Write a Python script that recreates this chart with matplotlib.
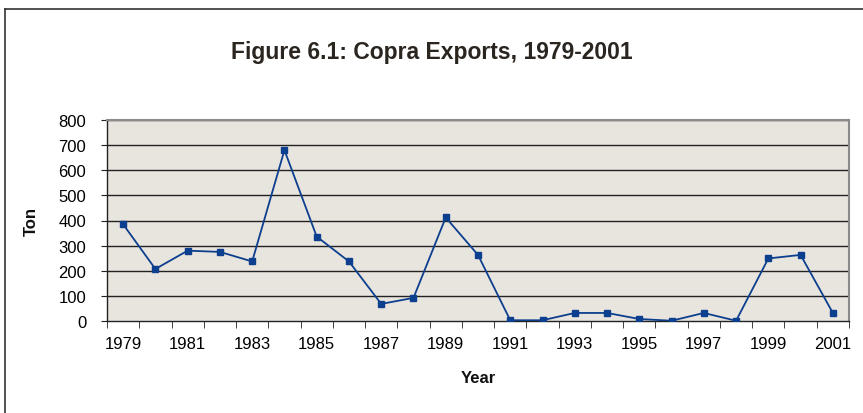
import numpy as np
import matplotlib
matplotlib.use("Agg")
from matplotlib import pyplot as plt
from matplotlib.lines import Line2D

plt.rcParams['font.family'] = ['Liberation Sans', 'DejaVu Sans']

# data
years = list(range(1979, 2002))
tons = [385, 207, 280, 275, 237, 680, 336, 237, 68, 92, 412, 263,
        3, 3, 32, 32, 8, 1, 32, 1, 249, 263, 32]
yticks = [0, 100, 200, 300, 400, 500, 600, 700, 800]

fig = plt.figure(figsize=(8.63, 4.14), dpi=100)
ax = fig.add_axes([107/863, 92/414, 742/863, 201/414])
ax.set_facecolor('#e8e4de')

x = np.arange(len(years))
for v in yticks[1:]:
    ax.axhline(v, color='#222222', lw=1.0, zorder=1)
ax.plot(x, tons, color='#0d3f8f', lw=1.3, marker='s', markersize=5, zorder=3)

ax.set_xlim(-0.5, len(years) - 0.5)
ax.set_ylim(0, 800)
ax.set_yticks(yticks)
ax.tick_params(axis='y', direction='out', length=4, labelsize=12, pad=11, color='#222222')

# category axis: ticks between categories, labels every other year
ax.set_xticks(x[::2])
ax.set_xticklabels([str(y) for y in years[::2]])
ax.set_xticks(np.arange(-0.5, len(years)), minor=True)
ax.tick_params(axis='x', which='major', length=0, labelsize=12, pad=11)
ax.tick_params(axis='x', which='minor', direction='out', length=5, color='#222222')

for s in ['top', 'right']:
    ax.spines[s].set_color('#8a8a8a')
    ax.spines[s].set_linewidth(1.5)
for s in ['left', 'bottom']:
    ax.spines[s].set_color('#222222')
    ax.spines[s].set_linewidth(1.0)

fig.text(478/863, 1 - 379/414, 'Year', ha='center', va='center',
         fontsize=12, fontweight='bold', color='#111111')
fig.text(31/863, 1 - 222/414, 'Ton', ha='center', va='center', rotation=90,
         fontsize=12, fontweight='bold', color='#111111')

fig.text(432/863, 1 - 52/414, 'Figure 6.1: Copra Exports, 1979-2001',
         ha='center', va='center', fontsize=16.5, fontweight='bold', color='#2b2520')

# outer chart frame (runs past the right and bottom edges)
fig.add_artist(Line2D([5/863, 1], [1 - 10/414, 1 - 10/414], color='#333333', lw=1.2))
fig.add_artist(Line2D([5/863, 5/863], [0, 1 - 10/414], color='#333333', lw=1.2))

fig.savefig('out.png', dpi=100)
